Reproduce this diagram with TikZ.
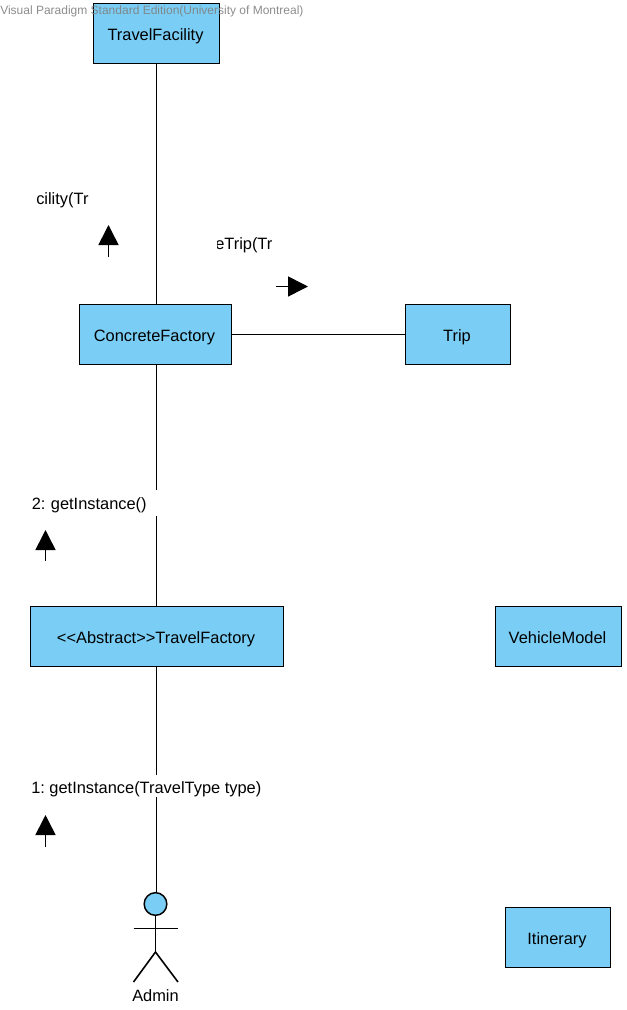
\documentclass[tikz,border=0pt]{standalone}
\usepackage{fontspec}
\setmainfont{Liberation Sans}
\usetikzlibrary{arrows.meta}
\definecolor{boxblue}{RGB}{122,206,245}
\tikzset{
  x=0.75pt,y=-0.75pt,
  lifeline/.style={draw=black,fill=boxblue,line width=1.1pt,inner sep=0pt,text height=12pt,text depth=1.5pt,font=\fontsize{12.3pt}{14pt}\selectfont,execute at end node={\kern1.5pt}},
  link/.style={draw=black,line width=1.2pt},
  lbl/.style={inner sep=0pt,font=\fontsize{12.3pt}{14pt}\selectfont,text=black},
  msg/.style={line width=1.2pt,-{Triangle[length=15pt,width=15pt]}},
}
\begin{document}
\frenchspacing
\begin{tikzpicture}
\useasboundingbox (0,0) rectangle (627,1010);
% boxes
\node[lifeline,minimum width=94.5pt,minimum height=45pt] (tf) at (156.5,33.5) {TravelFacility};
\node[lifeline,minimum width=114pt,minimum height=45pt] (cf) at (155.5,334.5) {ConcreteFactory};
\node[lifeline,minimum width=78.75pt,minimum height=45pt] (trip) at (458,334.5) {Trip};
\node[lifeline,minimum width=189.75pt,minimum height=45pt] (atf) at (157,636.5) {<{}<Abstract>{}>TravelFactory};
\node[lifeline,minimum width=94.5pt,minimum height=45pt] (vm) at (558.5,636.5) {VehicleModel};
\node[lifeline,minimum width=78.75pt,minimum height=45pt] (it) at (558,937.5) {Itinerary};
% actor
\node[draw=black,fill=boxblue,line width=1.1pt,circle,inner sep=0pt,minimum size=17pt] (head) at (155.5,904) {};
\coordinate (hip) at (155.5,952);
\coordinate (armL) at (133.5,928.5);
\coordinate (armR) at (178,928.5);
\coordinate (legL) at (133.5,982);
\coordinate (legR) at (178,982);
\draw[link] (head.south) -- (hip);
\draw[link] (armL) -- (armR);
\draw[link] (legL) -- (hip) -- (legR);
\node[lbl,anchor=base] (admin) at (155.5,1001) {Admin};
% connectors
\draw[link] (156.5,0 |- tf.south) -- (156.5,0 |- cf.north);
\draw[link] (cf.east) -- (trip.west);
\draw[link] (156.5,0 |- cf.south) -- (156.5,0 |- atf.north);
\draw[link] (156.5,0 |- atf.south) -- (156.5,0 |- head.north);
% messages
\node[lbl,fill=white,text height=14.25pt,text depth=5.25pt,text width=96pt,align=left,anchor=base west] (m2) at (31.5,509) {2: getInstance()};
\node[lbl,fill=white,text height=13.9pt,text depth=2.6pt,anchor=base west] (m1) at (31,793.5) {1: getInstance(TravelType type)};
\begin{scope}
  \clip (35,188) rectangle (89,210);
  \node[lbl,anchor=base west] (m3) at (36,204) {cility(Tr};
\end{scope}
\begin{scope}
  \clip (217,232) rectangle (272,254);
  \node[lbl,anchor=base west] (m4) at (215,249.5) {eTrip(Tr};
\end{scope}
\coordinate (a3s) at (108.5,257); \coordinate (a3e) at (108.5,225);
\coordinate (a4s) at (276,286.5); \coordinate (a4e) at (308,286.5);
\coordinate (a2s) at (45.5,561); \coordinate (a2e) at (45.5,530);
\coordinate (a1s) at (45.5,847); \coordinate (a1e) at (45.5,815);
\draw[msg] (a3s) -- (a3e);
\draw[msg] (a4s) -- (a4e);
\draw[msg] (a2s) -- (a2e);
\draw[msg] (a1s) -- (a1e);
% watermark
\node[inner sep=0pt,anchor=west,text=black!50,opacity=0.9,font=\fontsize{9pt}{10pt}\selectfont] (wm) at (0,11) {Visual Paradigm Standard Edition(University of Montreal)};
\end{tikzpicture}
\end{document}
